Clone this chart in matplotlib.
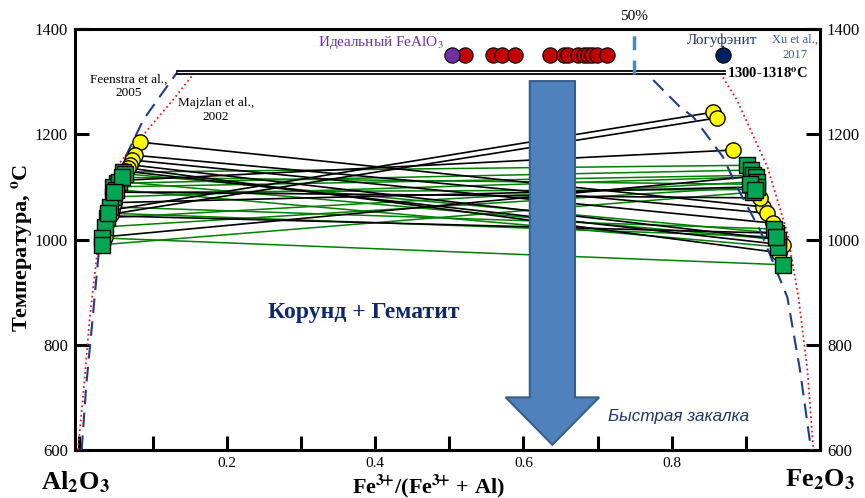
import numpy as np
import matplotlib
matplotlib.use('Agg')
import matplotlib.pyplot as plt
from matplotlib.patches import FancyArrow

plt.rcParams['font.family'] = ['Liberation Serif', 'DejaVu Serif']
plt.rcParams['mathtext.fontset'] = 'stix'

# solvus curves (x = Fe/(Fe+Al), T in C)
feen_left_x = [0.004, 0.010, 0.019, 0.027, 0.035, 0.046, 0.058, 0.087, 0.106, 0.133]
feen_left_t = [600, 720, 853, 975, 1037, 1095, 1142, 1227, 1265, 1318]
feen_right_x = [0.775, 0.811, 0.829, 0.869, 0.888, 0.919, 0.956, 0.973, 0.988]
feen_right_t = [1303, 1252, 1233, 1157, 1100, 1018, 890, 752, 600]
majz_left_x = [-0.001, 0.007, 0.015, 0.025, 0.036, 0.053, 0.089, 0.127, 0.154]
majz_left_t = [600, 720, 853, 975, 1060, 1142, 1202, 1265, 1313]
majz_right_x = [0.869, 0.888, 0.929, 0.956, 0.971, 0.983, 0.991]
majz_right_t = [1308, 1265, 1138, 1012, 890, 752, 600]

# tie lines: corundum side -> hematite side
black_lx = [0.083, 0.076, 0.072, 0.069, 0.066, 0.045, 0.043, 0.055, 0.050, 0.047, 0.040, 0.035, 0.062]
black_lt = [1185, 1160, 1151, 1142, 1136, 1056, 1048, 1112, 1090, 1070, 1045, 1005, 1130]
black_rx = [0.923, 0.929, 0.937, 0.945, 0.945, 0.856, 0.861, 0.883, 0.919, 0.915, 0.941, 0.910, 0.950]
black_rt = [1062, 1050, 1031, 1000, 975, 1242, 1231, 1170, 1079, 1100, 1012, 1120, 990]

green_lx = [0.060, 0.052, 0.046, 0.046, 0.038, 0.036, 0.062, 0.055, 0.050, 0.042, 0.031, 0.031, 0.058, 0.048, 0.040]
green_lt = [1128, 1107, 1100, 1081, 1041, 1024, 1125, 1110, 1095, 1062, 1003, 990, 1118, 1090, 1050]
green_rx = [0.902, 0.907, 0.910, 0.913, 0.915, 0.915, 0.941, 0.944, 0.944, 0.938, 0.950, 0.910, 0.905, 0.912, 0.940]
green_rt = [1141, 1132, 1122, 1119, 1110, 1100, 1012, 1000, 986, 1020, 952, 1090, 1105, 1095, 1005]

# high-T experiments (single phase) along the top
red_x = [0.521, 0.559, 0.571, 0.589, 0.636, 0.654, 0.660, 0.674, 0.681, 0.687, 0.693, 0.699, 0.713]
red_t = [1350] * len(red_x)
ideal_x, ideal_t = 0.504, 1350
logu_x, logu_t = 0.869, 1350

line_t = [1321, 1315]
line_x0, line_x1 = 0.133, 0.872
half_x = 0.749

fig = plt.figure(figsize=(8.65, 4.98), dpi=100)
ax = fig.add_axes([75 / 865, 1 - 450 / 498, 745 / 865, 421 / 498])
ax.set_xlim(-0.005, 1.0)
ax.set_ylim(600, 1400)

# tie lines
for i in range(len(green_lx)):
    ax.plot([green_lx[i], green_rx[i]], [green_lt[i], green_rt[i]], color='#008000', lw=1.1, zorder=2)
for i in range(len(black_lx)):
    ax.plot([black_lx[i], black_rx[i]], [black_lt[i], black_rt[i]], color='black', lw=1.2, zorder=2)

# solvus
ax.plot(feen_left_x, feen_left_t, color='#1F3C88', ls=(0, (7, 4)), lw=1.5, zorder=3)
ax.plot(feen_right_x, feen_right_t, color='#1F3C88', ls=(0, (7, 4)), lw=1.5, zorder=3)
ax.plot(majz_left_x, majz_left_t, color='#E02020', ls=':', lw=1.3, zorder=3)
ax.plot(majz_right_x, majz_right_t, color='#E02020', ls=':', lw=1.3, zorder=3)

# double line at 1300-1318
for t in line_t:
    ax.plot([line_x0, line_x1], [t, t], color='black', lw=1.3, zorder=3)
ax.plot([half_x, half_x], [line_t[1], 1400], color='#4A86C8', ls=(0, (4, 3)), lw=2.5, zorder=3)

# markers: yellow circles and green squares at both ends
ax.plot(black_lx, black_lt, 'o', ms=11, mfc='#FFFF00', mec='black', mew=1, ls='none', zorder=4)
ax.plot(black_rx, black_rt, 'o', ms=11, mfc='#FFFF00', mec='black', mew=1, ls='none', zorder=4)
ax.plot(green_lx, green_lt, 's', ms=11, mfc='#00A651', mec='black', mew=1, ls='none', zorder=5)
ax.plot(green_rx, green_rt, 's', ms=11, mfc='#00A651', mec='black', mew=1, ls='none', zorder=5)

ax.plot(red_x, red_t, 'o', ms=11, mfc='#C00000', mec='black', mew=0.8, ls='none', zorder=4)
ax.plot([ideal_x], [ideal_t], 'o', ms=11, mfc='#7030A0', mec='black', mew=0.8, zorder=5)
ax.plot([logu_x, logu_x], [logu_t, 1368], color='black', lw=1, zorder=4)
ax.plot([logu_x], [logu_t], 'o', ms=11, mfc='#002060', mec='black', mew=0.8, zorder=5)

# quench arrow
arr = FancyArrow(0.639, 1301, 0, -691, width=0.061, head_width=0.126, head_length=90,
                 length_includes_head=True, fc='#4F81BD', ec='#385D8A', lw=1.5, zorder=6)
ax.add_patch(arr)

# texts
ax.text(0.492, 1375, 'Идеальный FeAlO$_3$', color='#7030A0', fontsize=11, ha='right', va='center')
ax.text(0.868, 1379, 'Логуфэнит', color='#1F3864', fontsize=11, ha='center', va='center')
ax.text(0.966, 1365, 'Xu et al.,\n2017', color='#3A5A9A', fontsize=9, ha='center', va='center',
        linespacing=1.3)
ax.text(half_x, 1423, '50%', fontsize=11, ha='center', va='center', clip_on=False)
ax.text(0.875, 1316, '1300-1318$^{\\mathbf{o}}$C', fontsize=10.5, fontweight='bold',
        ha='left', va='center', zorder=7)
ax.text(0.068, 1291, 'Feenstra et al.,\n2005', fontsize=9.5, ha='center', va='center', linespacing=1.25)
ax.text(0.185, 1246, 'Majzlan et al.,\n2002', fontsize=9.5, ha='center', va='center', linespacing=1.25)
ax.text(0.385, 862, 'Корунд + Гематит', color='#10286A', fontsize=17, fontweight='bold',
        ha='center', va='center')
ax.text(0.714, 663, 'Быстрая закалка', color='#1F3864', fontsize=12.3, style='italic',
        family=['Liberation Sans', 'DejaVu Sans'], ha='left', va='center')

# axes styling
for s in ax.spines.values():
    s.set_linewidth(2.2)
ax.set_xticks(np.arange(0, 1.01, 0.1))
ax.set_xticklabels(['', '', '0.2', '', '0.4', '', '0.6', '', '0.8', '', ''])
ax.set_yticks([600, 800, 1000, 1200, 1400])
ax.tick_params(axis='both', direction='in', length=10, width=2.2, labelsize=12)
ax.tick_params(axis='x', labelsize=11, pad=5)
ax.tick_params(axis='y', left=True, right=True, labelleft=True, labelright=True, pad=5)

fig.text(428 / 865, 1 - 486 / 498, 'Fe$^{\\mathbf{3}\\!\\mathbf{+}}$/(Fe$^{\\mathbf{3}\\!\\mathbf{+}}$ + Al)',
         fontsize=16, fontweight='bold', ha='center', va='center')
fig.text(22 / 865, 1 - 248 / 498, 'Температура, $^{\\mathbf{o}}$C', fontsize=16, fontweight='bold',
         rotation=90, ha='center', va='center')
fig.text(41 / 865, 1 - 482 / 498, 'Al$_\\mathbf{2}$O$_\\mathbf{3}$', fontsize=19, fontweight='bold',
         ha='left', va='center')
fig.text(855 / 865, 1 - 480 / 498, 'Fe$_\\mathbf{2}$O$_\\mathbf{3}$', fontsize=19, fontweight='bold',
         ha='right', va='center')

fig.savefig('out.png', dpi=100)
